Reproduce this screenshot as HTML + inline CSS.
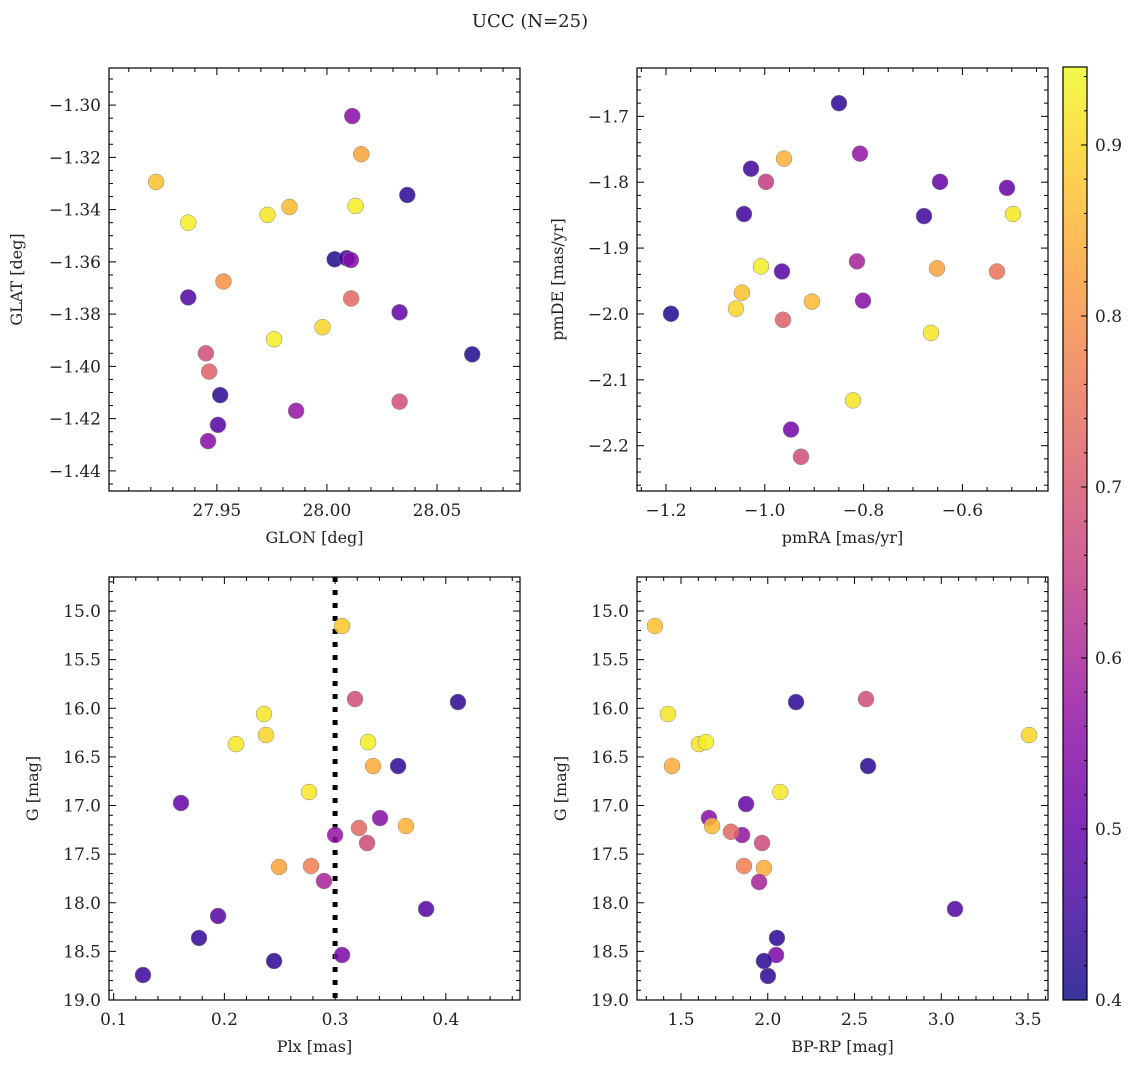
<!DOCTYPE html>
<html><head><meta charset="utf-8"><style>
body{margin:0;background:#fff;}
svg text{font-family:"DejaVu Serif","Liberation Serif",serif;fill:#222;}
</style></head><body>
<svg id="fig" width="1136" height="1067" xmlns="http://www.w3.org/2000/svg">
<text x="530" y="27" font-size="18" text-anchor="middle">UCC (N=25)</text>
<defs><linearGradient id="cg" x1="0" y1="1" x2="0" y2="0"></linearGradient></defs>
</svg>
<script>
// Panel 1: GLON / GLAT
const p1x=[28.0115,28.0156,27.9224,28.0365,28.013,27.983,27.973,27.937,28.0035,28.009,28.0109,27.953,27.937,28.011,28.033,27.998,27.976,28.066,27.945,27.9465,27.9515,27.9505,27.986,28.033,27.946];
const p1y=[-1.3042,-1.3188,-1.3294,-1.3344,-1.3386,-1.339,-1.342,-1.345,-1.359,-1.3586,-1.3593,-1.3675,-1.3736,-1.374,-1.3793,-1.385,-1.3896,-1.3954,-1.395,-1.402,-1.411,-1.4224,-1.417,-1.4135,-1.4286];
const p1c=[0.55,0.83,0.87,0.43,0.93,0.86,0.92,0.93,0.42,0.45,0.55,0.8,0.47,0.73,0.5,0.9,0.93,0.42,0.68,0.72,0.43,0.48,0.57,0.68,0.55];
// Panel 2: pmRA / pmDE
const p2x=[-0.8498,-0.5097,-0.4976,-0.6453,-0.6777,-1.0279,-0.9611,-0.8073,-0.9976,-1.0421,-1.0077,-0.9652,-0.8134,-0.6514,-0.5300,-1.1899,-1.0462,-1.0583,-0.9045,-0.8012,-0.9631,-0.6636,-0.8214,-0.9470,-0.9267];
const p2y=[-1.680,-1.8086,-1.8483,-1.7994,-1.8514,-1.7795,-1.7642,-1.7566,-1.7994,-1.8483,-1.9278,-1.9355,-1.9202,-1.9309,-1.9355,-1.9997,-1.9676,-1.992,-1.9813,-1.9798,-2.0089,-2.0287,-2.1312,-2.1755,-2.2168];
const p2c=[0.43,0.5,0.92,0.5,0.45,0.45,0.85,0.57,0.65,0.45,0.93,0.48,0.6,0.83,0.75,0.42,0.87,0.9,0.86,0.55,0.72,0.92,0.92,0.52,0.68];
// Panel 3: Plx / G
const p3x=[0.3063,0.318,0.411,0.2358,0.2376,0.2105,0.3298,0.3343,0.3569,0.2765,0.1608,0.3406,0.364,0.30,0.3216,0.3289,0.2494,0.2783,0.29,0.3822,0.1943,0.1771,0.3063,0.2449,0.1265];
const p3y=[15.154,15.905,15.936,16.059,16.275,16.368,16.347,16.594,16.594,16.861,16.974,17.129,17.211,17.303,17.231,17.386,17.632,17.622,17.776,18.064,18.136,18.362,18.537,18.599,18.743];
const p3c=[0.88,0.68,0.43,0.92,0.9,0.92,0.93,0.84,0.43,0.92,0.5,0.55,0.85,0.57,0.73,0.67,0.83,0.77,0.6,0.48,0.48,0.44,0.53,0.43,0.45];
// Panel 4: BP-RP / G
const p4x=[1.350,2.566,2.163,1.425,3.506,1.604,1.644,1.448,2.578,2.071,1.875,1.661,1.679,1.852,1.788,1.967,1.863,1.978,1.950,3.079,2.053,2.048,1.978,2.001];
const p4y=[15.154,15.905,15.936,16.059,16.275,16.368,16.347,16.594,16.594,16.861,16.985,17.129,17.211,17.303,17.27,17.386,17.622,17.643,17.787,18.064,18.362,18.537,18.599,18.753];
const p4c=[0.87,0.68,0.43,0.92,0.9,0.92,0.93,0.84,0.43,0.92,0.5,0.55,0.86,0.57,0.73,0.67,0.77,0.84,0.6,0.48,0.43,0.53,0.43,0.43];
const cbTicks=[0.4,0.5,0.6,0.7,0.8,0.9];
const plxLine=[0.3];

const NS="http://www.w3.org/2000/svg";
const svg=document.getElementById('fig');
const CMIN=0.4,CMAX=0.9456;
const stops=['#0d0887','#41049d','#6a00a8','#8f0da4','#b12a90','#cc4778','#e16462','#f2844b','#fca636','#fcce25','#f0f921'];
function hex(h){return[1,3,5].map(i=>parseInt(h.substr(i,2),16));}
function plasma(t){t=Math.max(0,Math.min(1,t));const f=t*10,i=Math.min(9,Math.floor(f)),r=f-i;const a=hex(stops[i]),b=hex(stops[i+1]);return 'rgb('+a.map((v,k)=>Math.round(v+(b[k]-v)*r)).join(',')+')';}
function cmap(v){return plasma((v-CMIN)/(CMAX-CMIN));}
function el(tag,attrs,parent){const e=document.createElementNS(NS,tag);for(const k in attrs)e.setAttribute(k,attrs[k]);(parent||svg).appendChild(e);return e;}
function fmt(v,d){let s=v.toFixed(d);return s.replace('-','\u2212');}

function panel(o){
  const g=el('g',{});
  
  
  const sx=v=>o.L+(v-o.x0)/(o.x1-o.x0)*(o.R-o.L);
  const sy=v=>o.B-(v-o.y0)/(o.y1-o.y0)*(o.B-o.T);
  const eps=1e-9;
  for(let v=Math.ceil(o.x0/o.xm-eps)*o.xm;v<=o.x1+eps;v+=o.xm){
    const x=sx(v);const maj=Math.abs(Math.round(v/o.xM)*o.xM-v)<o.xm/10;const len=maj?7:4;
    el('line',{x1:x,x2:x,y1:o.B,y2:o.B-len,stroke:'#000','stroke-width':1},g);
    el('line',{x1:x,x2:x,y1:o.T,y2:o.T+len,stroke:'#000','stroke-width':1},g);
  }
  const ys=Math.abs(o.ym);
  const ylo=Math.min(o.y0,o.y1),yhi=Math.max(o.y0,o.y1);
  for(let v=Math.ceil(ylo/ys-eps)*ys;v<=yhi+eps;v+=ys){
    const y=sy(v);const maj=Math.abs(Math.round(v/o.yM)*o.yM-v)<ys/10;const len=maj?7:4;
    el('line',{x1:o.L,x2:o.L+len,y1:y,y2:y,stroke:'#000','stroke-width':1},g);
    el('line',{x1:o.R,x2:o.R-len,y1:y,y2:y,stroke:'#000','stroke-width':1},g);
  }
  o.xt.forEach(v=>{const t=el('text',{x:sx(v),y:o.B+25,'font-size':17,'text-anchor':'middle'},g);t.textContent=fmt(v,o.xd);
    
    });
  o.yt.forEach(v=>{const t=el('text',{x:o.L-8,y:sy(v)+6,'font-size':17,'text-anchor':'end'},g);t.textContent=fmt(v,o.yd);
    
    });
  const xl=el('text',{x:(o.L+o.R)/2,y:o.B+52,'font-size':16,'text-anchor':'middle'},g);xl.textContent=o.xlab;
  
  
  const yl=el('text',{x:0,y:0,'font-size':16,'text-anchor':'middle',transform:`translate(${o.ylx},${(o.T+o.B)/2}) rotate(-90)`},g);yl.textContent=o.ylab;
  
  
  if(o.vline){o.vline.forEach(v=>{const l=el('line',{x1:sx(v),x2:sx(v),y1:o.T,y2:o.B,stroke:'#000','stroke-width':5,'stroke-dasharray':'5 8'},g);
    
    });}
  o.xs.forEach((v,i)=>{const c=el('circle',{cx:sx(v),cy:sy(o.ys[i]),r:8,fill:cmap(o.cs[i]),'fill-opacity':0.85,stroke:'#888','stroke-width':0.5},g);
    
    });
  const fr=el('rect',{x:o.L,y:o.T,width:o.R-o.L,height:o.B-o.T,fill:'none',stroke:'#000','stroke-width':1.2},g);
  
  
}
panel({name:'glon-glat-panel',L:109,R:520,T:68,B:491,x0:27.901,x1:28.0877,y0:-1.4477,y1:-1.2858,xm:0.01,xM:0.05,ym:0.005,yM:0.02,
  xt:[27.95,28.0,28.05],xd:2,yt:[-1.44,-1.42,-1.40,-1.38,-1.36,-1.34,-1.32,-1.30],yd:2,xlab:'GLON [deg]',ylab:'GLAT [deg]',ylx:22,xs:p1x,ys:p1y,cs:p1c});
panel({name:'pm-panel',L:637,R:1048,T:68,B:491,x0:-1.2587,x1:-0.4267,y0:-2.2688,y1:-1.6266,xm:0.05,xM:0.2,ym:0.02,yM:0.1,
  xt:[-1.2,-1.0,-0.8,-0.6],xd:1,yt:[-2.2,-2.1,-2.0,-1.9,-1.8,-1.7],yd:1,xlab:'pmRA [mas/yr]',ylab:'pmDE [mas/yr]',ylx:563,xs:p2x,ys:p2y,cs:p2c});
panel({name:'plx-g-panel',L:109,R:520,T:577,B:1000,x0:0.0958,x1:0.467,y0:19.0,y1:14.65,xm:0.02,xM:0.1,ym:0.1,yM:0.5,
  xt:[0.1,0.2,0.3,0.4],xd:1,yt:[15,15.5,16,16.5,17,17.5,18,18.5,19],yd:1,xlab:'Plx [mas]',ylab:'G [mag]',ylx:38,xs:p3x,ys:p3y,cs:p3c,vline:plxLine});
panel({name:'color-g-panel',L:637,R:1048,T:577,B:1000,x0:1.2464,x1:3.615,y0:19.0,y1:14.65,xm:0.1,xM:0.5,ym:0.1,yM:0.5,
  xt:[1.5,2.0,2.5,3.0,3.5],xd:1,yt:[15,15.5,16,16.5,17,17.5,18,18.5,19],yd:1,xlab:'BP-RP [mag]',ylab:'G [mag]',ylx:566,xs:p4x,ys:p4y,cs:p4c});

// Colorbar
const grad=document.getElementById('cg');
for(let i=0;i<=10;i++){el('stop',{offset:i/10,'stop-color':stops[i]},grad);}
const CT=67,CB=1000,CL=1063,CR=1087;
const cb=el('rect',{x:CL,y:CT,width:CR-CL,height:CB-CT,fill:'url(#cg)','fill-opacity':0.82,stroke:'#000','stroke-width':1.2});


const cy=v=>CB-(v-CMIN)/(CMAX-CMIN)*(CB-CT);
for(let v=0.4;v<=CMAX+1e-9;v+=0.02){const y=cy(v);const maj=Math.abs(Math.round(v*10)/10-v)<0.001;
  el('line',{x1:CR,x2:CR-(maj?6:3),y1:y,y2:y,stroke:'#000','stroke-width':1});}
cbTicks.forEach(v=>{const t=el('text',{x:CR+8,y:cy(v)+6,'font-size':17},svg);t.textContent=v.toFixed(1);
  
  });
</script>
</body></html>
